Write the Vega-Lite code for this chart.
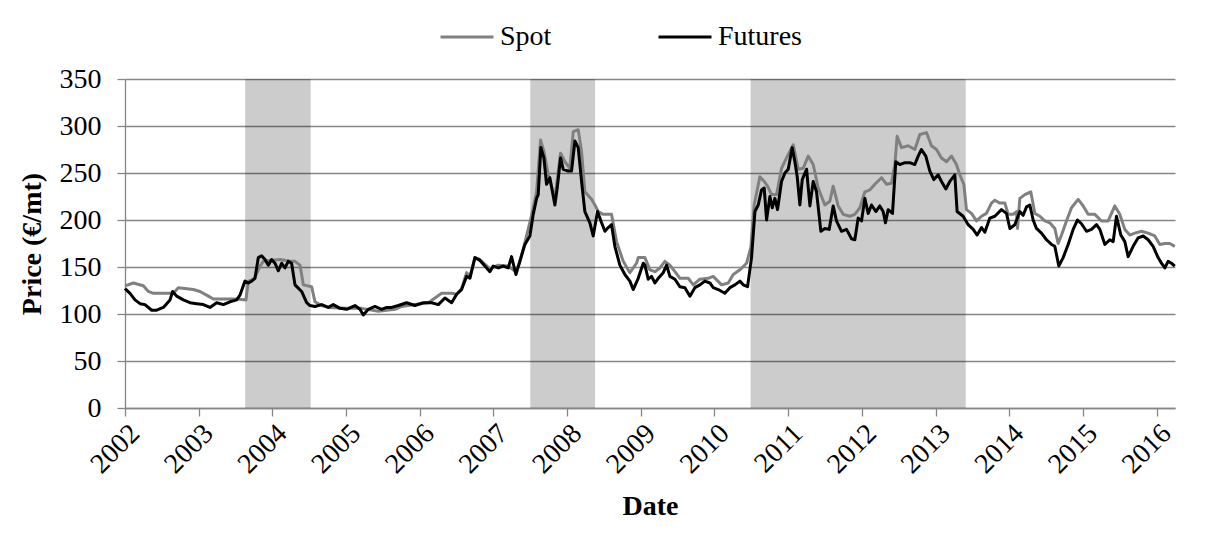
{
  "$schema": "https://vega.github.io/schema/vega-lite/v6.json",
  "autosize": {"type": "none"},
  "padding": {"left": 125, "top": 79, "right": 33, "bottom": 128},
  "width": 1050,
  "height": 329,
  "background": "white",
  "config": {
    "view": {"stroke": null},
    "font": "Liberation Serif",
    "axis": {
      "labelFont": "Liberation Serif",
      "labelFontSize": 28,
      "labelColor": "#000000",
      "titleFont": "Liberation Serif",
      "titleFontSize": 28,
      "titleFontWeight": "bold",
      "titleColor": "#000000",
      "domainColor": "#868686",
      "domainWidth": 1.3,
      "tickColor": "#868686",
      "tickWidth": 1.3,
      "tickSize": 8,
      "gridColor": "#868686",
      "gridWidth": 1.3
    },
    "legend": {
      "labelFont": "Liberation Serif",
      "labelFontSize": 28,
      "labelColor": "#000000"
    }
  },
  "datasets": {
    "shade": [
      {"start": 2003.63, "end": 2004.52},
      {"start": 2007.50, "end": 2008.38},
      {"start": 2010.49, "end": 2013.41}
    ],
    "spot": [
      {"year": 2002.000, "price": 130}, {"year": 2002.113, "price": 133}, {"year": 2002.249, "price": 130},
      {"year": 2002.317, "price": 124}, {"year": 2002.384, "price": 122}, {"year": 2002.656, "price": 122},
      {"year": 2002.724, "price": 128}, {"year": 2002.927, "price": 126}, {"year": 2003.018, "price": 124},
      {"year": 2003.131, "price": 119}, {"year": 2003.199, "price": 116}, {"year": 2003.515, "price": 116},
      {"year": 2003.642, "price": 115}, {"year": 2003.673, "price": 135}, {"year": 2003.719, "price": 136},
      {"year": 2003.764, "price": 139}, {"year": 2003.832, "price": 151}, {"year": 2003.877, "price": 156},
      {"year": 2004.103, "price": 158}, {"year": 2004.261, "price": 156}, {"year": 2004.307, "price": 156},
      {"year": 2004.375, "price": 152}, {"year": 2004.420, "price": 131}, {"year": 2004.533, "price": 129},
      {"year": 2004.578, "price": 113}, {"year": 2004.669, "price": 109}, {"year": 2004.759, "price": 107},
      {"year": 2004.985, "price": 106}, {"year": 2005.211, "price": 106}, {"year": 2005.438, "price": 103},
      {"year": 2005.664, "price": 105}, {"year": 2005.754, "price": 108}, {"year": 2005.935, "price": 110},
      {"year": 2006.116, "price": 112}, {"year": 2006.207, "price": 117}, {"year": 2006.297, "price": 122},
      {"year": 2006.433, "price": 122}, {"year": 2006.501, "price": 121}, {"year": 2006.568, "price": 127},
      {"year": 2006.636, "price": 144}, {"year": 2006.681, "price": 140}, {"year": 2006.749, "price": 160},
      {"year": 2006.817, "price": 158}, {"year": 2006.952, "price": 148}, {"year": 2007.065, "price": 152},
      {"year": 2007.201, "price": 151}, {"year": 2007.305, "price": 145}, {"year": 2007.359, "price": 156},
      {"year": 2007.427, "price": 176}, {"year": 2007.518, "price": 205}, {"year": 2007.586, "price": 230},
      {"year": 2007.640, "price": 285}, {"year": 2007.685, "price": 273}, {"year": 2007.744, "price": 248},
      {"year": 2007.834, "price": 223}, {"year": 2007.911, "price": 271}, {"year": 2007.970, "price": 262},
      {"year": 2008.038, "price": 255}, {"year": 2008.083, "price": 294}, {"year": 2008.151, "price": 296},
      {"year": 2008.196, "price": 273}, {"year": 2008.241, "price": 230}, {"year": 2008.332, "price": 222},
      {"year": 2008.377, "price": 216}, {"year": 2008.422, "price": 209}, {"year": 2008.490, "price": 206},
      {"year": 2008.603, "price": 206}, {"year": 2008.671, "price": 177}, {"year": 2008.762, "price": 156},
      {"year": 2008.852, "price": 144}, {"year": 2008.942, "price": 154}, {"year": 2008.965, "price": 160},
      {"year": 2009.056, "price": 160}, {"year": 2009.124, "price": 147}, {"year": 2009.192, "price": 145},
      {"year": 2009.260, "price": 149}, {"year": 2009.327, "price": 156}, {"year": 2009.395, "price": 152},
      {"year": 2009.463, "price": 145}, {"year": 2009.531, "price": 138}, {"year": 2009.644, "price": 138},
      {"year": 2009.712, "price": 131}, {"year": 2009.802, "price": 137}, {"year": 2009.915, "price": 138},
      {"year": 2009.983, "price": 140}, {"year": 2010.096, "price": 131}, {"year": 2010.187, "price": 133},
      {"year": 2010.255, "price": 142}, {"year": 2010.345, "price": 147}, {"year": 2010.436, "price": 154},
      {"year": 2010.494, "price": 171}, {"year": 2010.539, "price": 216}, {"year": 2010.616, "price": 246},
      {"year": 2010.675, "price": 241}, {"year": 2010.720, "price": 236}, {"year": 2010.775, "price": 227},
      {"year": 2010.843, "price": 227}, {"year": 2010.910, "price": 255}, {"year": 2010.978, "price": 266},
      {"year": 2011.069, "price": 280}, {"year": 2011.137, "price": 254}, {"year": 2011.204, "price": 255},
      {"year": 2011.272, "price": 268}, {"year": 2011.340, "price": 259}, {"year": 2011.408, "price": 234},
      {"year": 2011.498, "price": 216}, {"year": 2011.566, "price": 220}, {"year": 2011.611, "price": 236},
      {"year": 2011.679, "price": 215}, {"year": 2011.747, "price": 206}, {"year": 2011.837, "price": 204},
      {"year": 2011.905, "price": 206}, {"year": 2011.973, "price": 213}, {"year": 2012.041, "price": 230},
      {"year": 2012.108, "price": 232}, {"year": 2012.176, "price": 238}, {"year": 2012.267, "price": 245},
      {"year": 2012.335, "price": 238}, {"year": 2012.402, "price": 239}, {"year": 2012.448, "price": 259},
      {"year": 2012.479, "price": 289}, {"year": 2012.538, "price": 277}, {"year": 2012.629, "price": 279},
      {"year": 2012.719, "price": 275}, {"year": 2012.787, "price": 291}, {"year": 2012.877, "price": 293},
      {"year": 2012.945, "price": 279}, {"year": 2013.013, "price": 275}, {"year": 2013.081, "price": 266},
      {"year": 2013.149, "price": 262}, {"year": 2013.217, "price": 268}, {"year": 2013.284, "price": 259},
      {"year": 2013.330, "price": 248}, {"year": 2013.384, "price": 238}, {"year": 2013.420, "price": 211},
      {"year": 2013.488, "price": 207}, {"year": 2013.556, "price": 199}, {"year": 2013.624, "price": 204},
      {"year": 2013.691, "price": 207}, {"year": 2013.759, "price": 218}, {"year": 2013.805, "price": 221},
      {"year": 2013.873, "price": 218}, {"year": 2013.941, "price": 218}, {"year": 2013.986, "price": 206},
      {"year": 2014.054, "price": 206}, {"year": 2014.099, "price": 209}, {"year": 2014.113, "price": 191},
      {"year": 2014.144, "price": 223}, {"year": 2014.212, "price": 227}, {"year": 2014.293, "price": 230},
      {"year": 2014.348, "price": 207}, {"year": 2014.416, "price": 204}, {"year": 2014.483, "price": 199},
      {"year": 2014.551, "price": 197}, {"year": 2014.619, "price": 191}, {"year": 2014.664, "price": 175},
      {"year": 2014.710, "price": 184}, {"year": 2014.777, "price": 199}, {"year": 2014.845, "price": 213},
      {"year": 2014.936, "price": 222}, {"year": 2015.004, "price": 215}, {"year": 2015.071, "price": 206},
      {"year": 2015.162, "price": 206}, {"year": 2015.252, "price": 199}, {"year": 2015.343, "price": 199},
      {"year": 2015.433, "price": 215}, {"year": 2015.501, "price": 206}, {"year": 2015.569, "price": 190},
      {"year": 2015.637, "price": 184}, {"year": 2015.705, "price": 186}, {"year": 2015.795, "price": 188},
      {"year": 2015.886, "price": 186}, {"year": 2015.976, "price": 183}, {"year": 2016.044, "price": 174},
      {"year": 2016.112, "price": 175}, {"year": 2016.179, "price": 175}, {"year": 2016.247, "price": 172}
    ],
    "futures": [
      {"year": 2002.000, "price": 127}, {"year": 2002.068, "price": 122}, {"year": 2002.136, "price": 115},
      {"year": 2002.204, "price": 111}, {"year": 2002.271, "price": 110}, {"year": 2002.362, "price": 104},
      {"year": 2002.430, "price": 104}, {"year": 2002.520, "price": 107}, {"year": 2002.611, "price": 115},
      {"year": 2002.647, "price": 124}, {"year": 2002.701, "price": 119}, {"year": 2002.792, "price": 115},
      {"year": 2002.882, "price": 112}, {"year": 2002.972, "price": 111}, {"year": 2003.063, "price": 110},
      {"year": 2003.153, "price": 107}, {"year": 2003.244, "price": 112}, {"year": 2003.334, "price": 110},
      {"year": 2003.425, "price": 113}, {"year": 2003.515, "price": 115}, {"year": 2003.560, "price": 120},
      {"year": 2003.628, "price": 135}, {"year": 2003.673, "price": 133}, {"year": 2003.719, "price": 135},
      {"year": 2003.764, "price": 138}, {"year": 2003.809, "price": 160}, {"year": 2003.854, "price": 162},
      {"year": 2003.900, "price": 158}, {"year": 2003.945, "price": 152}, {"year": 2003.990, "price": 158},
      {"year": 2004.035, "price": 154}, {"year": 2004.081, "price": 146}, {"year": 2004.126, "price": 154},
      {"year": 2004.171, "price": 149}, {"year": 2004.216, "price": 156}, {"year": 2004.261, "price": 154},
      {"year": 2004.307, "price": 131}, {"year": 2004.397, "price": 124}, {"year": 2004.465, "price": 112},
      {"year": 2004.510, "price": 109}, {"year": 2004.578, "price": 108}, {"year": 2004.669, "price": 110},
      {"year": 2004.759, "price": 107}, {"year": 2004.827, "price": 110}, {"year": 2004.918, "price": 106},
      {"year": 2005.008, "price": 105}, {"year": 2005.121, "price": 109}, {"year": 2005.189, "price": 105},
      {"year": 2005.234, "price": 99}, {"year": 2005.302, "price": 105}, {"year": 2005.392, "price": 108},
      {"year": 2005.483, "price": 105}, {"year": 2005.551, "price": 107}, {"year": 2005.619, "price": 107},
      {"year": 2005.709, "price": 109}, {"year": 2005.822, "price": 112}, {"year": 2005.935, "price": 109},
      {"year": 2006.048, "price": 112}, {"year": 2006.161, "price": 112}, {"year": 2006.252, "price": 110},
      {"year": 2006.342, "price": 117}, {"year": 2006.433, "price": 112}, {"year": 2006.501, "price": 121},
      {"year": 2006.568, "price": 126}, {"year": 2006.636, "price": 140}, {"year": 2006.681, "price": 138},
      {"year": 2006.749, "price": 160}, {"year": 2006.817, "price": 157}, {"year": 2006.885, "price": 151},
      {"year": 2006.952, "price": 145}, {"year": 2006.998, "price": 151}, {"year": 2007.065, "price": 149},
      {"year": 2007.133, "price": 151}, {"year": 2007.201, "price": 149}, {"year": 2007.246, "price": 161},
      {"year": 2007.305, "price": 142}, {"year": 2007.359, "price": 156}, {"year": 2007.427, "price": 174},
      {"year": 2007.495, "price": 183}, {"year": 2007.540, "price": 206}, {"year": 2007.586, "price": 223},
      {"year": 2007.608, "price": 227}, {"year": 2007.644, "price": 277}, {"year": 2007.685, "price": 266},
      {"year": 2007.721, "price": 238}, {"year": 2007.766, "price": 245}, {"year": 2007.834, "price": 216},
      {"year": 2007.866, "price": 234}, {"year": 2007.911, "price": 266}, {"year": 2007.947, "price": 254},
      {"year": 2008.015, "price": 252}, {"year": 2008.060, "price": 252}, {"year": 2008.106, "price": 284},
      {"year": 2008.151, "price": 277}, {"year": 2008.196, "price": 241}, {"year": 2008.241, "price": 209},
      {"year": 2008.309, "price": 197}, {"year": 2008.354, "price": 183}, {"year": 2008.413, "price": 209},
      {"year": 2008.468, "price": 197}, {"year": 2008.513, "price": 188}, {"year": 2008.558, "price": 192},
      {"year": 2008.603, "price": 195}, {"year": 2008.648, "price": 172}, {"year": 2008.716, "price": 152},
      {"year": 2008.784, "price": 142}, {"year": 2008.852, "price": 135}, {"year": 2008.897, "price": 126},
      {"year": 2008.965, "price": 138}, {"year": 2009.033, "price": 154}, {"year": 2009.056, "price": 152},
      {"year": 2009.101, "price": 137}, {"year": 2009.146, "price": 140}, {"year": 2009.192, "price": 133},
      {"year": 2009.237, "price": 138}, {"year": 2009.305, "price": 144}, {"year": 2009.350, "price": 152},
      {"year": 2009.395, "price": 140}, {"year": 2009.463, "price": 137}, {"year": 2009.531, "price": 129},
      {"year": 2009.599, "price": 128}, {"year": 2009.667, "price": 119}, {"year": 2009.734, "price": 128},
      {"year": 2009.802, "price": 131}, {"year": 2009.870, "price": 135}, {"year": 2009.938, "price": 133},
      {"year": 2009.983, "price": 128}, {"year": 2010.051, "price": 126}, {"year": 2010.141, "price": 122},
      {"year": 2010.209, "price": 128}, {"year": 2010.277, "price": 131}, {"year": 2010.345, "price": 135},
      {"year": 2010.390, "price": 131}, {"year": 2010.449, "price": 129}, {"year": 2010.503, "price": 160},
      {"year": 2010.549, "price": 209}, {"year": 2010.594, "price": 216}, {"year": 2010.639, "price": 232},
      {"year": 2010.675, "price": 234}, {"year": 2010.707, "price": 200}, {"year": 2010.752, "price": 225},
      {"year": 2010.784, "price": 213}, {"year": 2010.820, "price": 223}, {"year": 2010.856, "price": 211},
      {"year": 2010.910, "price": 241}, {"year": 2010.956, "price": 250}, {"year": 2011.001, "price": 254},
      {"year": 2011.055, "price": 277}, {"year": 2011.091, "price": 262}, {"year": 2011.123, "price": 246},
      {"year": 2011.159, "price": 216}, {"year": 2011.191, "price": 243}, {"year": 2011.250, "price": 254},
      {"year": 2011.295, "price": 215}, {"year": 2011.340, "price": 241}, {"year": 2011.385, "price": 230},
      {"year": 2011.444, "price": 188}, {"year": 2011.498, "price": 191}, {"year": 2011.557, "price": 190},
      {"year": 2011.611, "price": 215}, {"year": 2011.656, "price": 199}, {"year": 2011.724, "price": 188},
      {"year": 2011.792, "price": 190}, {"year": 2011.860, "price": 180}, {"year": 2011.905, "price": 179},
      {"year": 2011.950, "price": 202}, {"year": 2011.995, "price": 199}, {"year": 2012.041, "price": 223},
      {"year": 2012.086, "price": 207}, {"year": 2012.131, "price": 216}, {"year": 2012.190, "price": 209},
      {"year": 2012.244, "price": 215}, {"year": 2012.289, "price": 209}, {"year": 2012.321, "price": 197},
      {"year": 2012.357, "price": 211}, {"year": 2012.416, "price": 207}, {"year": 2012.461, "price": 262},
      {"year": 2012.515, "price": 259}, {"year": 2012.583, "price": 261}, {"year": 2012.651, "price": 261},
      {"year": 2012.719, "price": 259}, {"year": 2012.764, "price": 268}, {"year": 2012.809, "price": 275},
      {"year": 2012.868, "price": 268}, {"year": 2012.923, "price": 252}, {"year": 2012.977, "price": 243},
      {"year": 2013.036, "price": 248}, {"year": 2013.081, "price": 241}, {"year": 2013.140, "price": 233},
      {"year": 2013.194, "price": 241}, {"year": 2013.262, "price": 248}, {"year": 2013.293, "price": 209},
      {"year": 2013.375, "price": 204}, {"year": 2013.443, "price": 195}, {"year": 2013.511, "price": 190},
      {"year": 2013.565, "price": 184}, {"year": 2013.624, "price": 192}, {"year": 2013.669, "price": 187},
      {"year": 2013.737, "price": 202}, {"year": 2013.805, "price": 204}, {"year": 2013.895, "price": 211},
      {"year": 2013.963, "price": 207}, {"year": 2014.009, "price": 191}, {"year": 2014.076, "price": 195},
      {"year": 2014.144, "price": 209}, {"year": 2014.189, "price": 205}, {"year": 2014.235, "price": 214},
      {"year": 2014.280, "price": 216}, {"year": 2014.325, "price": 200}, {"year": 2014.370, "price": 191},
      {"year": 2014.438, "price": 186}, {"year": 2014.506, "price": 179}, {"year": 2014.574, "price": 174},
      {"year": 2014.619, "price": 172}, {"year": 2014.673, "price": 151}, {"year": 2014.732, "price": 160},
      {"year": 2014.800, "price": 174}, {"year": 2014.868, "price": 190}, {"year": 2014.927, "price": 200},
      {"year": 2014.981, "price": 196}, {"year": 2015.049, "price": 188}, {"year": 2015.117, "price": 190},
      {"year": 2015.185, "price": 195}, {"year": 2015.230, "price": 190}, {"year": 2015.298, "price": 174},
      {"year": 2015.366, "price": 179}, {"year": 2015.411, "price": 177}, {"year": 2015.456, "price": 204},
      {"year": 2015.515, "price": 184}, {"year": 2015.569, "price": 177}, {"year": 2015.614, "price": 161},
      {"year": 2015.682, "price": 172}, {"year": 2015.750, "price": 181}, {"year": 2015.818, "price": 183},
      {"year": 2015.886, "price": 179}, {"year": 2015.953, "price": 172}, {"year": 2016.021, "price": 160},
      {"year": 2016.066, "price": 154}, {"year": 2016.112, "price": 149}, {"year": 2016.157, "price": 156},
      {"year": 2016.202, "price": 154}, {"year": 2016.247, "price": 151}
    ]
  },
  "layer": [
    {
      "data": {"name": "shade"},
      "mark": {"type": "rect", "fill": "#000000", "opacity": 0.2},
      "encoding": {
        "x": {"field": "start", "type": "quantitative"},
        "x2": {"field": "end"},
        "y": {"datum": 350, "type": "quantitative"},
        "y2": {"datum": 0}
      }
    },
    {
      "data": {"name": "spot"},
      "mark": {"type": "line", "strokeWidth": 3, "strokeJoin": "round"},
      "encoding": {
        "x": {"field": "year", "type": "quantitative"},
        "y": {"field": "price", "type": "quantitative"},
        "color": {"datum": "Spot"}
      }
    },
    {
      "data": {"name": "futures"},
      "mark": {"type": "line", "strokeWidth": 3, "strokeJoin": "round"},
      "encoding": {
        "x": {"field": "year", "type": "quantitative"},
        "y": {"field": "price", "type": "quantitative"},
        "color": {"datum": "Futures"}
      }
    }
  ],
  "resolve": {"scale": {"color": "shared"}},
  "encoding": {
    "x": {
      "type": "quantitative",
      "scale": {"domain": [2002, 2016.25], "nice": false, "zero": false},
      "axis": {
        "title": "Date",
        "values": [2002, 2003, 2004, 2005, 2006, 2007, 2008, 2009, 2010, 2011, 2012, 2013, 2014, 2015, 2016],
        "format": "d",
        "labelAngle": -45,
        "labelPadding": 3,
        "grid": false,
        "titlePadding": 14
      }
    },
    "y": {
      "type": "quantitative",
      "scale": {"domain": [0, 350], "nice": false},
      "axis": {
        "title": "Price (€/mt)",
        "values": [0, 50, 100, 150, 200, 250, 300, 350],
        "labelPadding": 16,
        "grid": true,
        "titlePadding": 13
      }
    },
    "color": {
      "type": "nominal",
      "scale": {"domain": ["Spot", "Futures"], "range": ["#808080", "#000000"]},
      "legend": {
        "title": null,
        "orient": "none",
        "direction": "horizontal",
        "legendX": 314,
        "legendY": -70,
        "symbolType": "stroke",
        "symbolSize": 2809,
        "symbolStrokeWidth": 3,
        "labelOffset": 5,
        "columnPadding": 100
      }
    }
  }
}
